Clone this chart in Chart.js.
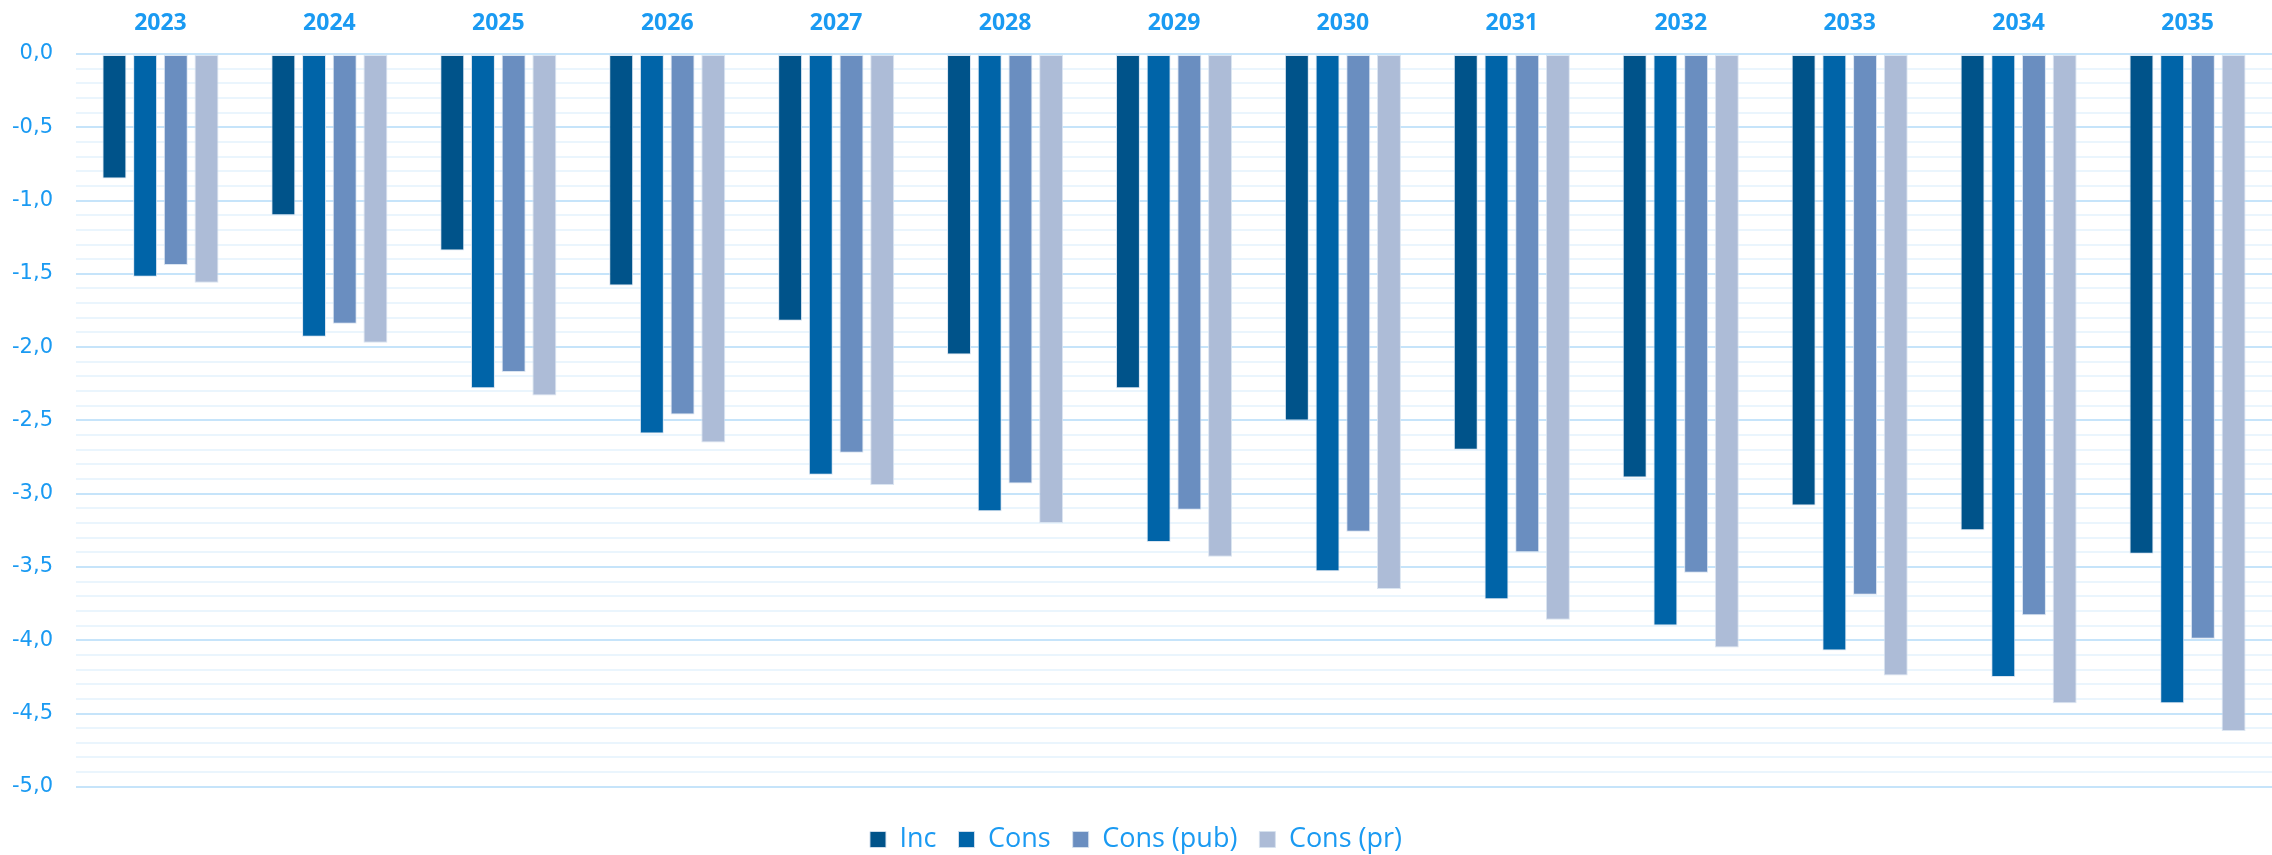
<!DOCTYPE html>
<html>
<head>
<meta charset="utf-8">
<script src="https://cdn.jsdelivr.net/npm/chart.js@4/dist/chart.umd.min.js"></script>
<style>
  html, body { margin: 0; padding: 0; background: #fff; overflow: hidden; }
  #wrap { width: 2272px; height: 855px; }
</style>
</head>
<body>
<div id="wrap"><canvas id="chart"></canvas></div>
<script>
const years = ["2023", "2024", "2025", "2026", "2027", "2028", "2029", "2030", "2031", "2032", "2033", "2034", "2035"];
const inc = [-0.85, -1.10, -1.34, -1.58, -1.82, -2.05, -2.28, -2.50, -2.70, -2.89, -3.08, -3.25, -3.41];
const cons = [-1.52, -1.93, -2.28, -2.59, -2.87, -3.12, -3.33, -3.53, -3.72, -3.90, -4.07, -4.25, -4.43];
const consPub = [-1.44, -1.84, -2.17, -2.46, -2.72, -2.93, -3.11, -3.26, -3.40, -3.54, -3.69, -3.83, -3.99];
const consPr = [-1.56, -1.97, -2.33, -2.65, -2.94, -3.20, -3.43, -3.65, -3.86, -4.05, -4.24, -4.43, -4.62];
const yTicks = [0, -0.5, -1, -1.5, -2, -2.5, -3, -3.5, -4, -4.5, -5];

const textBlue = "#1a9af2";

function bars(label, data, color) {
  return {
    label: label,
    data: data,
    backgroundColor: color,
    borderColor: "rgba(215,226,240,0.9)",
    borderWidth: 1,
    borderSkipped: false,
    categoryPercentage: 0.727,
    barPercentage: 0.78
  };
}

// a major line every 0,5 and a faint line every 0,1
function isMajor(v) {
  return yTicks.some(t => Math.abs(t - v) < 1e-6);
}

new Chart(document.getElementById("chart"), {
  type: "bar",
  data: {
    labels: years,
    datasets: [
      bars("Inc", inc, "#00538a"),
      bars("Cons", cons, "#0064a8"),
      bars("Cons (pub)", consPub, "#6a8ec0"),
      bars("Cons (pr)", consPr, "#adbcd7")
    ]
  },
  options: {
    responsive: true,
    maintainAspectRatio: false,
    animation: false,
    layout: { padding: { top: 0, left: 0, right: 0, bottom: -8 } },
    plugins: {
      tooltip: { enabled: false },
      legend: {
        position: "bottom",
        title: { display: true, text: " ", font: { size: 1 }, padding: { top: 8, bottom: 8 } },
        labels: {
          color: textBlue,
          font: { family: "'Open Sans'", size: 27 },
          boxWidth: 16,
          boxHeight: 16,
          padding: 22
        }
      }
    },
    scales: {
      x: {
        position: "top",
        grid: { display: false },
        border: { display: false },
        ticks: {
          color: textBlue,
          font: { family: "'Open Sans'", size: 23, weight: "bold" },
          padding: 9,
          maxRotation: 0,
          autoSkip: false
        },
        afterFit: s => { s.height = 54; }
      },
      y: {
        min: -5,
        max: 0,
        border: { display: false },
        grid: {
          drawTicks: false,
          lineWidth: 2,
          color: ctx => isMajor(ctx.tick.value) ? "#c6e4fa" : "#eaf5fd"
        },
        ticks: {
          stepSize: 0.1,
          autoSkip: false,
          color: textBlue,
          font: { family: "'DejaVu Sans'", size: 21 },
          padding: 23,
          callback: v => isMajor(v) ? (Math.abs(v) < 1e-6 ? 0 : v).toFixed(1).replace(".", ",") : ""
        },
        afterFit: s => { s.width = 76; }
      }
    }
  }
});
</script>
</body>
</html>
